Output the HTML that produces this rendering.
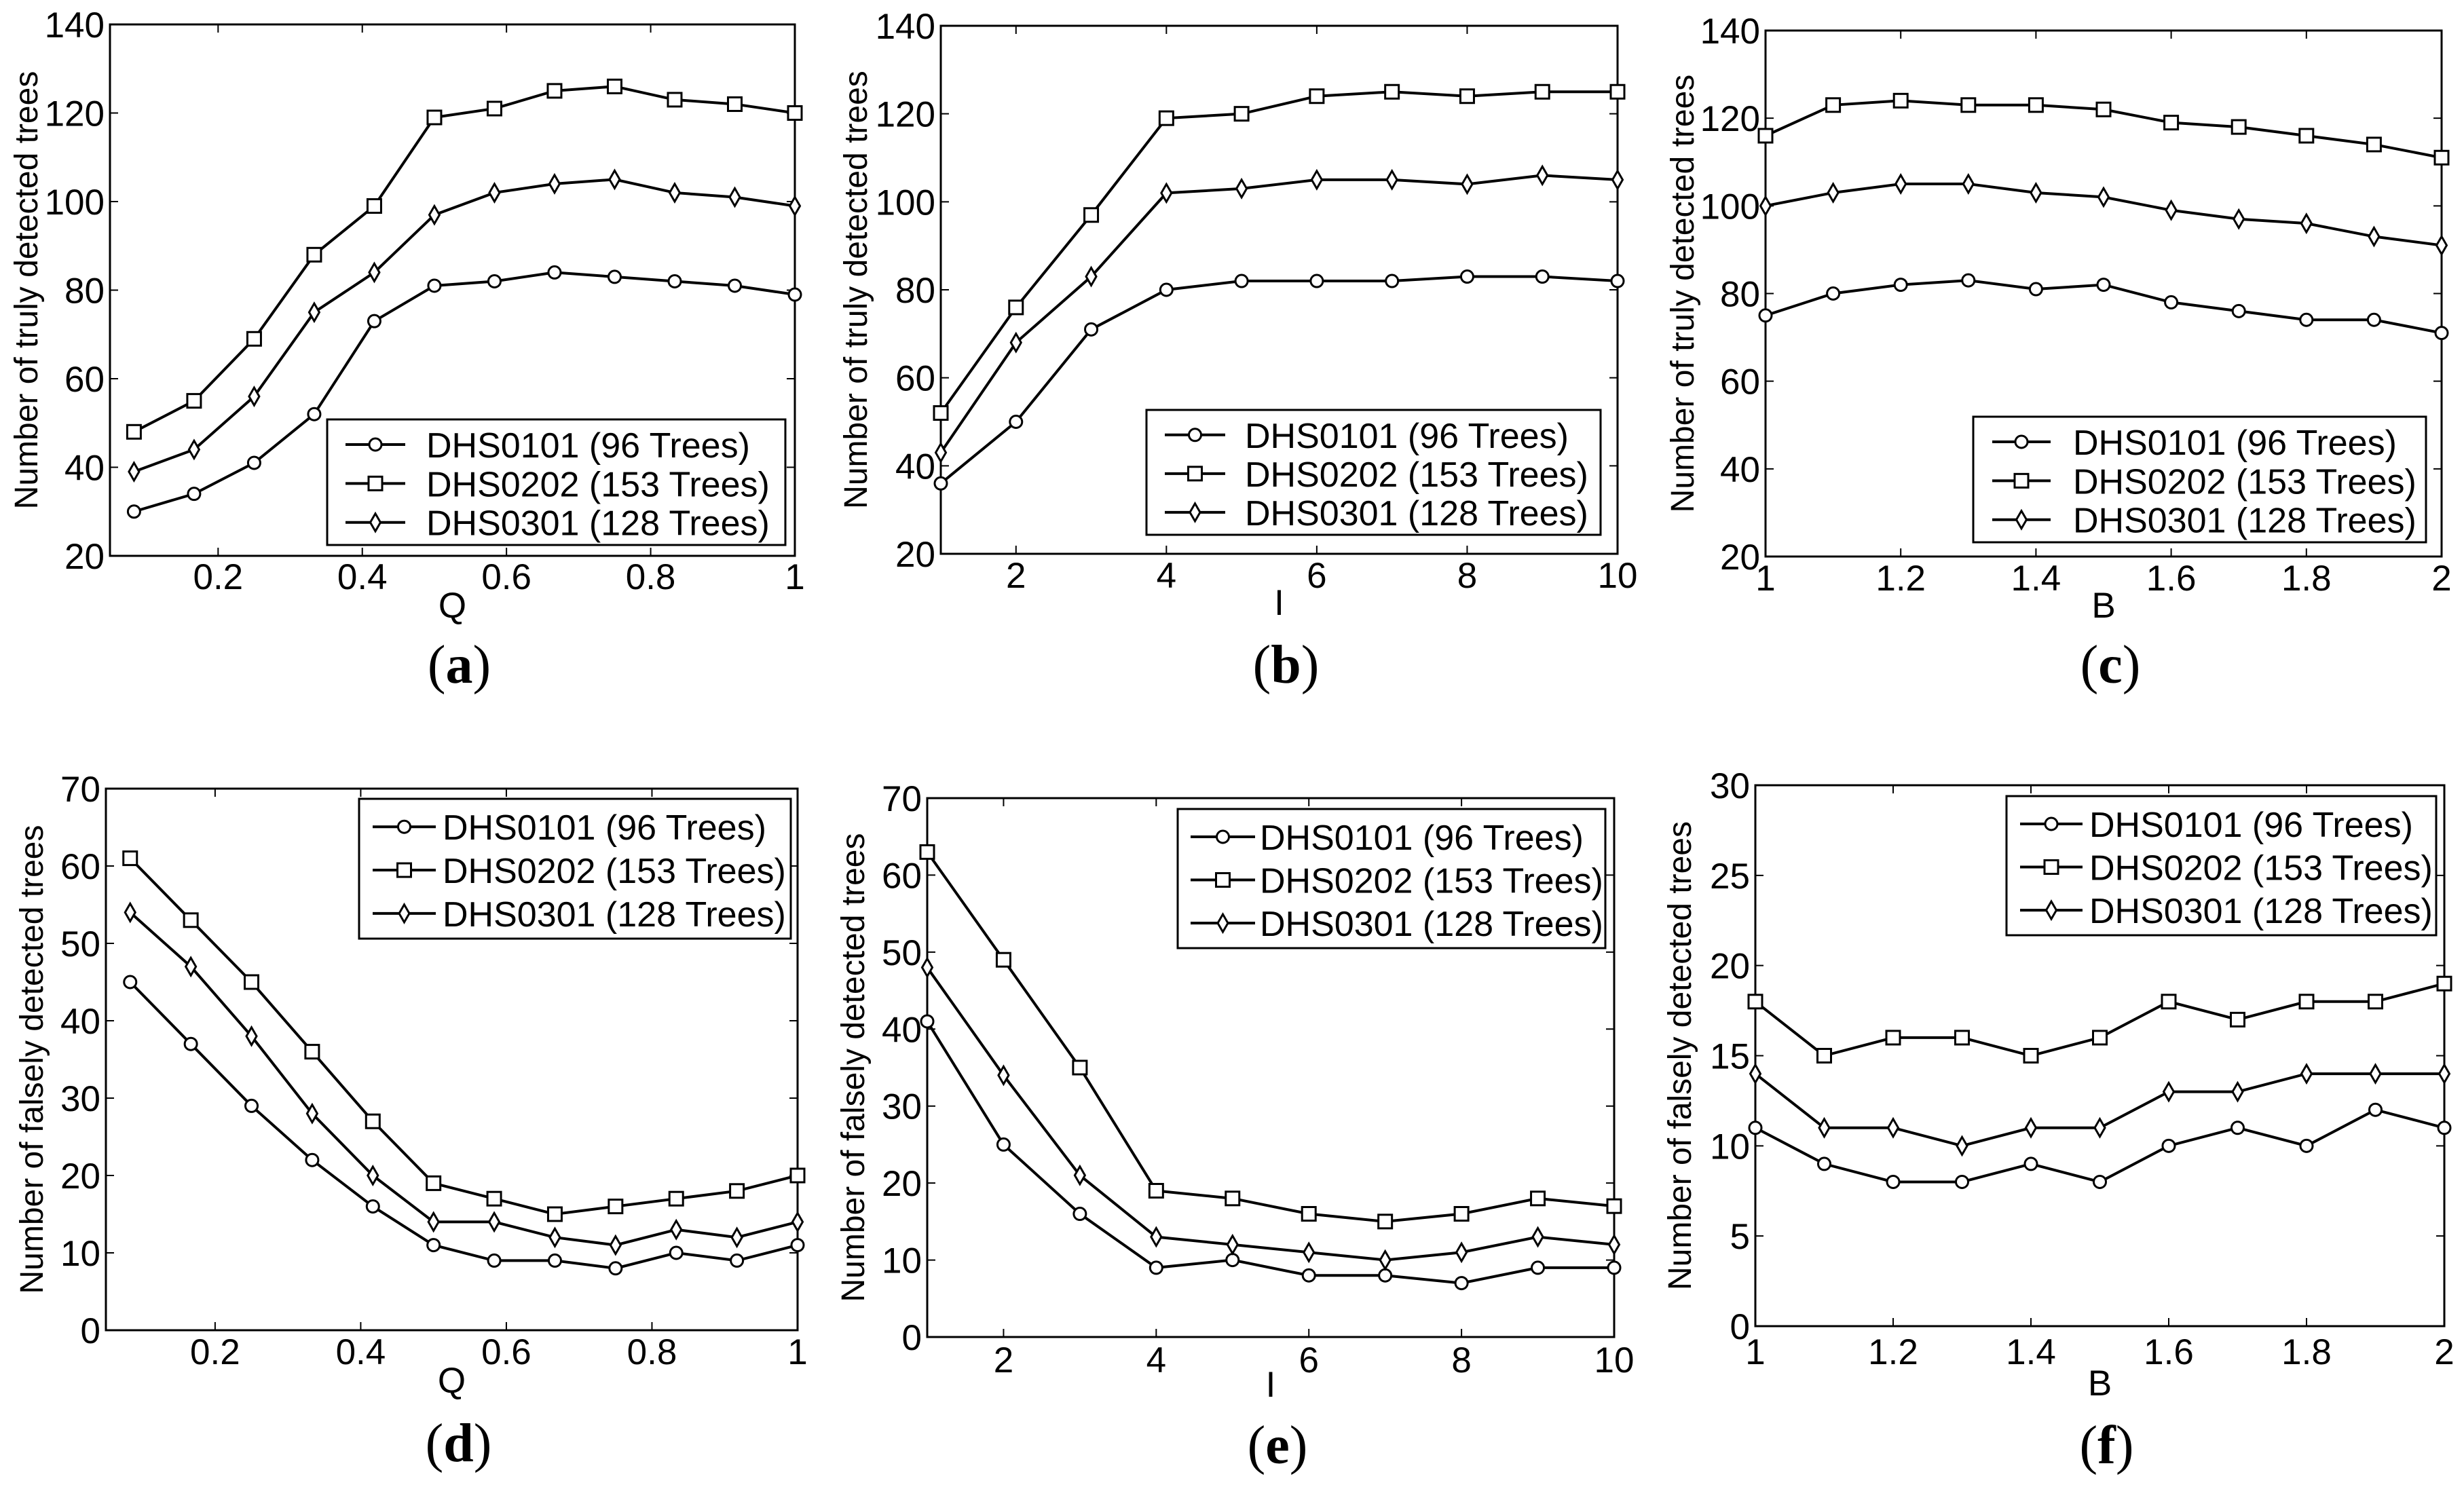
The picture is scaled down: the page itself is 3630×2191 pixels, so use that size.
<!DOCTYPE html>
<html><head><meta charset="utf-8">
<style>
html,body{margin:0;padding:0;background:#fff;}
svg{display:block;font-family:"Liberation Sans",Arial,sans-serif;}
</style></head>
<body>
<svg id="fig" width="3630" height="2191" viewBox="0 0 3630 2191" xmlns="http://www.w3.org/2000/svg"></svg>
<script>
// ---- data ----
const seriesNames = ["DHS0101 (96 Trees)", "DHS0202 (153 Trees)", "DHS0301 (128 Trees)"];
const qValues = [1/12,2/12,3/12,4/12,5/12,6/12,7/12,8/12,9/12,10/12,11/12,12/12];
const iValues = [1,2,3,4,5,6,7,8,9,10];
const bValues = [1,1.1,1.2,1.3,1.4,1.5,1.6,1.7,1.8,1.9,2];
const qTicks = [0.2,0.4,0.6,0.8,1];
const iTicks = [2,4,6,8,10];
const bTicks = [1,1.2,1.4,1.6,1.8,2];
const trueTicks = [20,40,60,80,100,120,140];
const falseTicks = [0,10,20,30,40,50,60,70];
const falseTicksF = [0,5,10,15,20,25,30];

const aDHS0101 = [30,34,41,52,73,81,82,84,83,82,81,79];
const aDHS0202 = [48,55,69,88,99,119,121,125,126,123,122,120];
const aDHS0301 = [39,44,56,75,84,97,102,104,105,102,101,99];
const bDHS0101 = [36,50,71,80,82,82,82,83,83,82];
const bDHS0202 = [52,76,97,119,120,124,125,124,125,125];
const bDHS0301 = [43,68,83,102,103,105,105,104,106,105];
const cDHS0101 = [75,80,82,83,81,82,78,76,74,74,71];
const cDHS0202 = [116,123,124,123,123,122,119,118,116,114,111];
const cDHS0301 = [100,103,105,105,103,102,99,97,96,93,91];
const dDHS0101 = [45,37,29,22,16,11,9,9,8,10,9,11];
const dDHS0202 = [61,53,45,36,27,19,17,15,16,17,18,20];
const dDHS0301 = [54,47,38,28,20,14,14,12,11,13,12,14];
const eDHS0101 = [41,25,16,9,10,8,8,7,9,9];
const eDHS0202 = [63,49,35,19,18,16,15,16,18,17];
const eDHS0301 = [48,34,21,13,12,11,10,11,13,12];
const fDHS0101 = [11,9,8,8,9,8,10,11,10,12,11];
const fDHS0202 = [18,15,16,16,15,16,18,17,18,18,19];
const fDHS0301 = [14,11,11,10,11,11,13,13,14,14,14];

// ---- layout ----
const panels = [
 {id:"a",x0:162,x1:1171,y0:36,y1:819,xmin:0.05,xmax:1,ymin:20,ymax:140,xs:qValues,xt:qTicks,yt:trueTicks,xl:"Q",yl:"Number of truly detected trees",
  s:[aDHS0101,aDHS0202,aDHS0301],lg:[482,618,1157,803],ln:[509,597,628],ylx:39,tky:868,xly:892,cy:980},
 {id:"b",x0:1386,x1:2383,y0:38,y1:816,xmin:1,xmax:10,ymin:20,ymax:140,xs:iValues,xt:iTicks,yt:trueTicks,xl:"I",yl:"Number of truly detected trees",
  s:[bDHS0101,bDHS0202,bDHS0301],lg:[1689,604,2358,788],ln:[1716,1805,1834],ylx:1261,tky:866,xly:888,cy:980},
 {id:"c",x0:2601,x1:3597,y0:45,y1:820,xmin:1,xmax:2,ymin:20,ymax:140,xs:bValues,xt:bTicks,yt:trueTicks,xl:"B",yl:"Number of truly detected trees",
  s:[cDHS0101,cDHS0202,cDHS0301],lg:[2907,614,3574,799],ln:[2935,3021,3054],ylx:2479,tky:870,xly:892,cy:980},
 {id:"d",x0:156,x1:1175,y0:1162,y1:1960,xmin:0.05,xmax:1,ymin:0,ymax:70,xs:qValues,xt:qTicks,yt:falseTicks,xl:"Q",yl:"Number of falsely detected trees",
  s:[dDHS0101,dDHS0202,dDHS0301],lg:[529,1177,1165,1383],ln:[549,642,652],ylx:47,tky:2010,xly:2034,cy:2127},
 {id:"e",x0:1366,x1:2378,y0:1176,y1:1970,xmin:1,xmax:10,ymin:0,ymax:70,xs:iValues,xt:iTicks,yt:falseTicks,xl:"I",yl:"Number of falsely detected trees",
  s:[eDHS0101,eDHS0202,eDHS0301],lg:[1735,1192,2365,1397],ln:[1754,1849,1856],ylx:1257,tky:2022,xly:2040,cy:2130},
 {id:"f",x0:2586,x1:3601,y0:1157,y1:1954,xmin:1,xmax:2,ymin:0,ymax:30,xs:bValues,xt:bTicks,yt:falseTicksF,xl:"B",yl:"Number of falsely detected trees",
  s:[fDHS0101,fDHS0202,fDHS0301],lg:[2956,1173,3589,1378],ln:[2976,3068,3078],ylx:2475,tky:2010,xly:2038,cy:2130}
];

const NS="http://www.w3.org/2000/svg";
const svg=document.getElementById("fig");
function mk(tag,attrs,parent){const e=document.createElementNS(NS,tag);for(const k in attrs)e.setAttribute(k,attrs[k]);(parent||svg).appendChild(e);return e;}
const markerTypes=["circle","square","diamond"];
function marker(g,type,x,y){
  if(type==="circle"){return mk("circle",{cx:x,cy:y,r:9,fill:"#fff",stroke:"#000","stroke-width":3},g);}
  if(type==="square"){return mk("rect",{x:x-10,y:y-10,width:20,height:20,fill:"#fff",stroke:"#000","stroke-width":3},g);}
  return mk("polygon",{points:`${x},${y-13} ${x+7.5},${y} ${x},${y+13} ${x-7.5},${y}`,fill:"#fff",stroke:"#000","stroke-width":3},g);
}

panels.forEach(p=>{
  const g=mk("g",{});
  
  
  const sx=v=>p.x0+(v-p.xmin)/(p.xmax-p.xmin)*(p.x1-p.x0);
  const sy=v=>p.y1-(v-p.ymin)/(p.ymax-p.ymin)*(p.y1-p.y0);
  p.xt.forEach(t=>{
    const x=sx(t);
    const tl=mk("path",{d:`M${x},${p.y1}v-12M${x},${p.y0}v12`,stroke:"#000","stroke-width":2},g);
    
    
    const tx=mk("text",{x:x,y:p.tky,"font-size":53,"text-anchor":"middle"},g);
    tx.textContent=String(t);
    
    
  });
  p.yt.forEach(t=>{
    const y=sy(t);
    const tl=mk("path",{d:`M${p.x0},${y}h12M${p.x1},${y}h-12`,stroke:"#000","stroke-width":2},g);
    
    
    const tx=mk("text",{x:p.x0-8,y:y+19,"font-size":53,"text-anchor":"end"},g);
    tx.textContent=String(t);
    
    
  });
  const box=mk("rect",{x:p.x0,y:p.y0,width:p.x1-p.x0,height:p.y1-p.y0,fill:"none",stroke:"#000","stroke-width":3},g);
  
  
  p.s.forEach((vals,si)=>{
    const sg=mk("g",{},g);
    
    
    const pts=vals.map((v,i)=>sx(p.xs[i])+","+sy(v)).join(" ");
    const pl=mk("polyline",{points:pts,fill:"none",stroke:"#000","stroke-width":4},sg);
    
    
    vals.forEach((v,i)=>{
      const m=marker(sg,markerTypes[si],sx(p.xs[i]),sy(v));
      
      
    });
  });
  const lg=mk("g",{},g);
  
  
  const [lx0,ly0,lx1,ly1]=p.lg;
  mk("rect",{x:lx0,y:ly0,width:lx1-lx0,height:ly1-ly0,fill:"#fff",stroke:"#000","stroke-width":3},lg);
  const fr=[0.2,0.51,0.82];
  seriesNames.forEach((nm,si)=>{
    const y=ly0+fr[si]*(ly1-ly0);
    const eg=mk("g",{},lg);
    
    
    mk("line",{x1:p.ln[0],x2:p.ln[1],y1:y,y2:y,stroke:"#000","stroke-width":4},eg);
    marker(eg,markerTypes[si],(p.ln[0]+p.ln[1])/2,y);
    const t=mk("text",{x:p.ln[2],y:y+19,"font-size":52},eg);
    t.textContent=nm;
  });
  const xl=mk("text",{x:(p.x0+p.x1)/2,y:p.xly+18,"font-size":53,"text-anchor":"middle"},g);
  xl.textContent=p.xl;
  
  
  const cyl=(p.y0+p.y1)/2;
  const yl=mk("text",{x:p.ylx,y:cyl,"font-size":48,"text-anchor":"middle",transform:`rotate(-90 ${p.ylx} ${cyl}) translate(0 16)`},g);
  yl.textContent=p.yl;
  
  
  const cap=mk("text",{x:(p.x0+p.x1)/2+10,y:p.cy+26,"font-size":80,"text-anchor":"middle","font-family":"Liberation Serif, serif"},g);
  cap.innerHTML='(<tspan font-weight="bold">'+p.id+'</tspan>)';
  
  
});
</script>
</body></html>
